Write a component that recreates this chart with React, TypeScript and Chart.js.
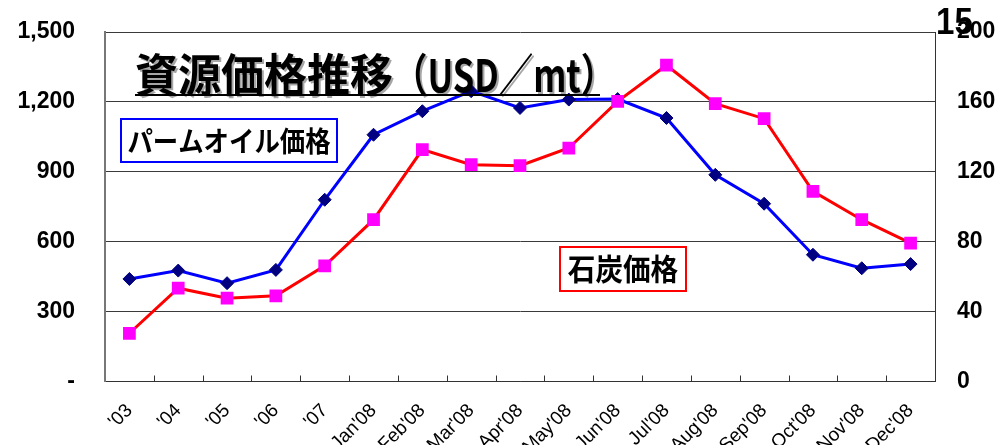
import React, { useEffect, useRef } from "react";
import { Chart, registerables } from "chart.js";

Chart.register(...registerables);

const categories = ["'03", "'04", "'05", "'06", "'07", "Jan'08", "Feb'08", "Mar'08", "Apr'08", "May'08", "Jun'08", "Jul'08", "Aug'08", "Sep'08", "Oct'08", "Nov'08", "Dec'08"];
const palmOil = [440, 476, 422, 479, 780, 1059, 1160, 1246, 1174, 1210, 1212, 1131, 887, 763, 544, 486, 504];
const coal = [27.6, 53.4, 47.7, 49, 66.2, 92.6, 132.7, 124.1, 123.5, 133.6, 160.3, 181, 159, 150.4, 108.8, 92.6, 79.2];
const leftTicks = [0, 300, 600, 900, 1200, 1500];
const rightTicks = [0, 40, 80, 120, 160, 200];
const titleMain = "資源価格推移";
const titleUnit = "（USD／mt）";
const palmLabel = "パームオイル価格";
const coalLabel = "石炭価格";
const pageNumber = "15";

const CJK = "'Noto Sans CJK JP', 'Noto Sans CJK SC', sans-serif";
const LATIN = "'Liberation Sans', Arial, sans-serif";

function drawScaled(ctx: CanvasRenderingContext2D, text: string, x: number, y: number, font: string, sx: number, align: "left" | "center", sy = 1) {
  ctx.save();
  ctx.font = font;
  ctx.textBaseline = "middle";
  ctx.textAlign = "left";
  const w = ctx.measureText(text).width * sx;
  const left = align === "center" ? x - w / 2 : x;
  ctx.translate(left, y);
  ctx.scale(sx, sy);
  ctx.fillText(text, 0, 0);
  ctx.restore();
  return w;
}

const overlayPlugin = {
  id: "overlay",
  beforeDatasetsDraw(chart: any) {
    const ctx: CanvasRenderingContext2D = chart.ctx;
    const x = chart.scales.x;
    const bottom = chart.chartArea.bottom;
    ctx.save();
    ctx.strokeStyle = "#333";
    ctx.lineWidth = 1;
    for (let i = 1; i < categories.length; i++) {
      const px = Math.round((x.getPixelForValue(i - 1) + x.getPixelForValue(i)) / 2) + 0.5;
      ctx.beginPath();
      ctx.moveTo(px, bottom);
      ctx.lineTo(px, bottom - 6);
      ctx.stroke();
    }
    ctx.restore();
  },
  afterDraw(chart: any) {
    const ctx: CanvasRenderingContext2D = chart.ctx;
    ctx.save();
    ctx.fillStyle = "#000";
    ctx.shadowColor = "rgba(0,0,0,0.35)";
    ctx.shadowOffsetX = 2;
    ctx.shadowOffsetY = 2;
    const w1 = drawScaled(ctx, titleMain, 135, 75, `bold 43px ${CJK}`, 1, "left", 1.05);
    drawScaled(ctx, titleUnit, 135 + w1, 75, `bold 43px ${CJK}`, 0.8, "left", 1.05);
    ctx.shadowColor = "transparent";
    ctx.shadowOffsetX = 0;
    ctx.shadowOffsetY = 0;
    ctx.strokeStyle = "#000";
    ctx.lineWidth = 2;
    ctx.beginPath();
    ctx.moveTo(135, 95);
    ctx.lineTo(600, 95);
    ctx.stroke();

    ctx.fillStyle = "#fff";
    ctx.fillRect(121, 119, 216, 43);
    ctx.strokeStyle = "#0000FF";
    ctx.lineWidth = 2;
    ctx.strokeRect(121, 119, 216, 43);
    ctx.fillStyle = "#000";
    drawScaled(ctx, palmLabel, 229, 141, `bold 27px ${CJK}`, 0.94, "center", 1.05);

    ctx.fillStyle = "#fff";
    ctx.fillRect(560, 247, 126, 44);
    ctx.strokeStyle = "#FF0000";
    ctx.lineWidth = 2;
    ctx.strokeRect(560, 247, 126, 44);
    ctx.fillStyle = "#000";
    drawScaled(ctx, coalLabel, 623, 269, `bold 30px ${CJK}`, 0.92, "center");

    drawScaled(ctx, pageNumber, 936, 24, `bold 36px ${LATIN}`, 0.92, "left", 1.0);
    ctx.restore();
  },
};

export default function App() {
  const ref = useRef<HTMLCanvasElement>(null);
  useEffect(() => {
    if (!ref.current) return;
    const chart = new Chart(ref.current, {
      type: "line",
      data: {
        labels: categories,
        datasets: [
          {
            label: coalLabel,
            data: coal,
            yAxisID: "y2",
            borderColor: "#FF0000",
            borderWidth: 3,
            backgroundColor: "#FF00FF",
            pointStyle: "rect",
            pointRadius: 9,
            pointBorderWidth: 0,
            pointBorderColor: "#FF00FF",
            pointBackgroundColor: "#FF00FF",
            tension: 0,
          },
          {
            label: palmLabel,
            data: palmOil,
            yAxisID: "y",
            borderColor: "#0000FF",
            borderWidth: 3,
            backgroundColor: "#000080",
            pointStyle: "rectRot",
            pointRadius: 6.5,
            pointBorderWidth: 1,
            pointBorderColor: "#000080",
            pointBackgroundColor: "#000080",
            tension: 0,
          },
        ],
      },
      options: {
        animation: false,
        responsive: false,
        maintainAspectRatio: false,
        layout: { padding: { top: 0, left: 0, right: 0, bottom: 0 } },
        plugins: { legend: { display: false }, tooltip: { enabled: false }, title: { display: false } },
        scales: {
          x: {
            type: "category",
            offset: true,
            grid: { display: true, drawOnChartArea: false, drawTicks: false },
            border: { display: true, color: "#333", width: 1 },
            ticks: {
              autoSkip: false,
              maxRotation: 45,
              minRotation: 45,
              padding: 18,
              color: "#000",
              font: { family: LATIN, size: 19 },
            },
            afterFit: (s: any) => { s.height = 63.5; },
          },
          y: {
            position: "left",
            min: 0,
            max: 1500,
            afterBuildTicks: (s: any) => { s.ticks = leftTicks.map((v) => ({ value: v })); },
            grid: { color: "#3a3a3a", lineWidth: 1, drawTicks: false },
            border: { display: true, color: "#777", width: 2 },
            ticks: {
              padding: 30,
              color: "#000",
              font: { family: LATIN, size: 23, weight: "bold" },
              callback: (v: any) => (Number(v) === 0 ? "-" : Number(v).toLocaleString("en-US")),
            },
            afterFit: (s: any) => { s.width = 105; s.paddingTop = 0; s.paddingBottom = 0; },
          },
          y2: {
            position: "right",
            min: 0,
            max: 200,
            afterBuildTicks: (s: any) => { s.ticks = rightTicks.map((v) => ({ value: v })); },
            grid: { drawOnChartArea: false, drawTicks: false },
            border: { display: true, color: "#333", width: 1 },
            ticks: {
              padding: 22,
              color: "#000",
              font: { family: LATIN, size: 23, weight: "bold" },
            },
            afterFit: (s: any) => { s.width = 66; s.paddingTop = 0; s.paddingBottom = 0; },
          },
        },
      },
      plugins: [
        overlayPlugin,
        {
          id: "forceTop",
          beforeLayout(chart: any) {
            chart.options.layout.padding = { top: 32, left: 0, right: 0, bottom: 0 };
          },
        },
      ],
    });
    return () => chart.destroy();
  }, []);
  return (
    <div style={{ position: "absolute", left: 0, top: 0, width: 1001, height: 445, background: "#fff" }}>
      <canvas ref={ref} width={1001} height={445} style={{ display: "block" }} />
    </div>
  );
}
